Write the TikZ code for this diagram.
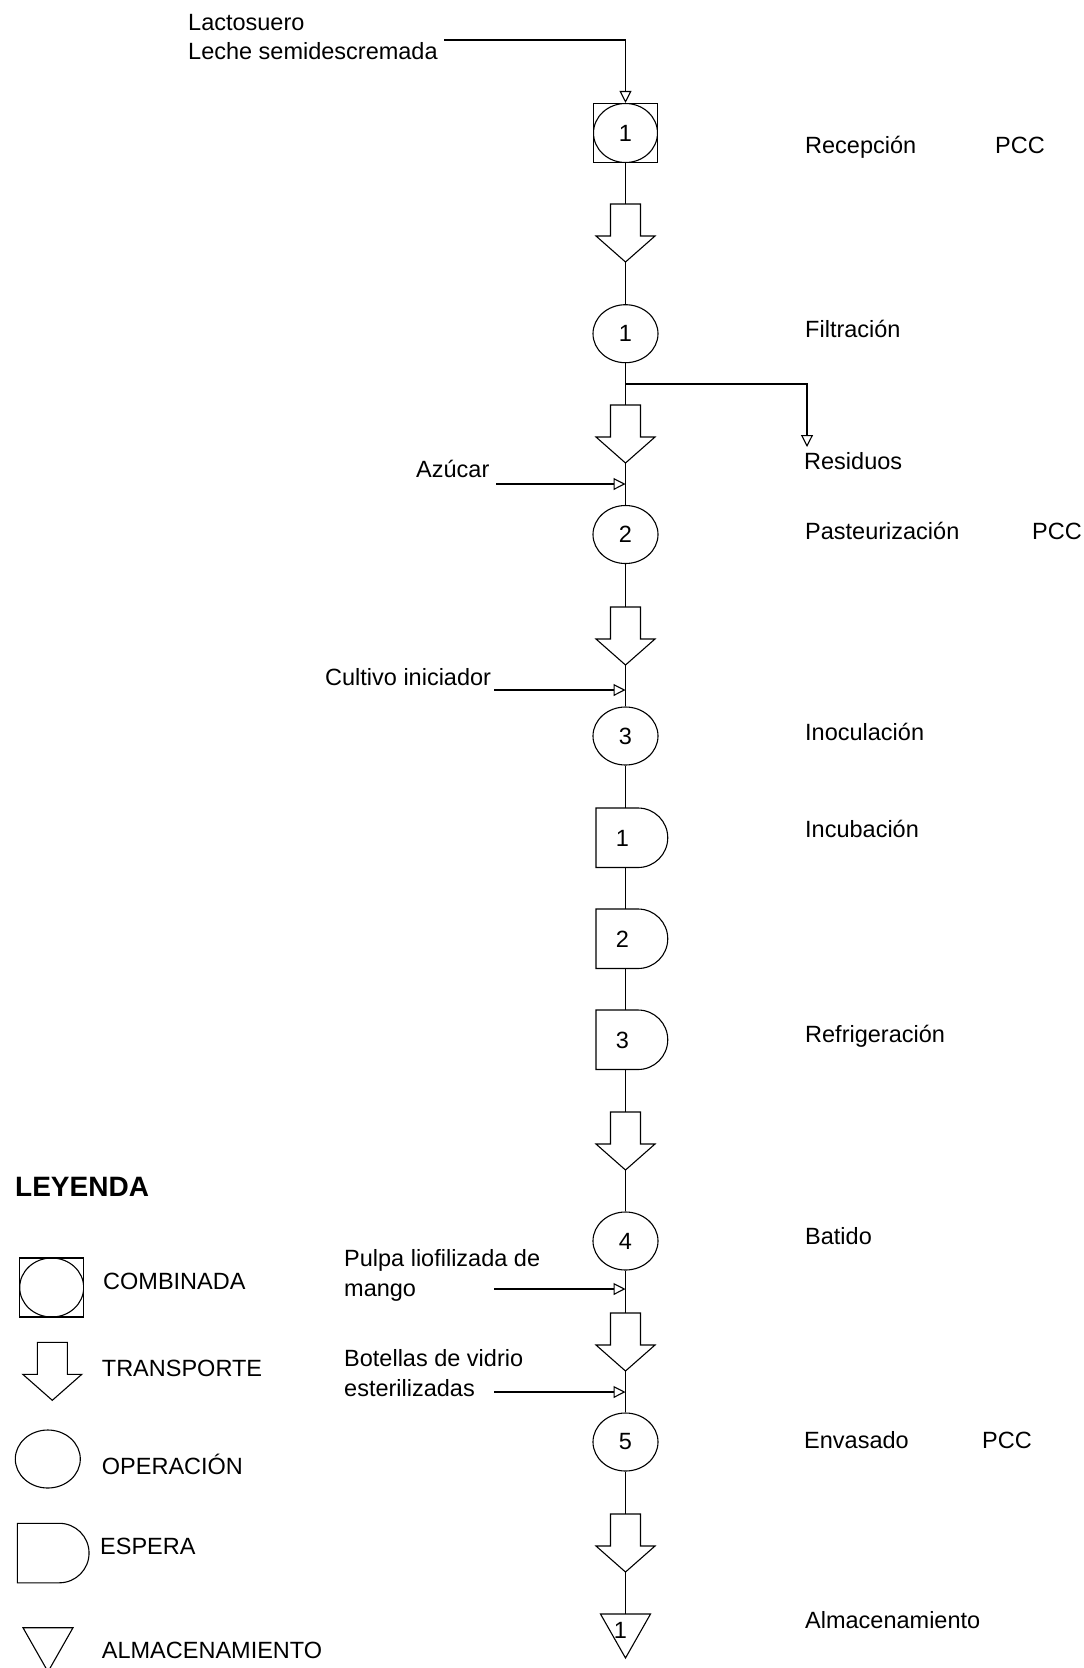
\documentclass[tikz,border=0pt]{standalone}
\usepackage{fontspec}
\setmainfont{Liberation Sans}
\usetikzlibrary{
    arrows.meta,
    shapes.geometric
}
\tikzstyle{forma} = [
    draw,
    line width=1.1pt,
    fill=white
]
\tikzstyle{numero} = [
    inner sep=0pt,
    font=\fontsize{23.5}{28}\selectfont
]
\tikzstyle{operacion} = [
    ellipse,
    draw,
    line width=1.1pt,
    minimum width=65pt,
    minimum height=58pt,
    inner sep=0pt,
    font=\fontsize{23.5}{28}\selectfont
]
\tikzstyle{combinada} = [
    rectangle,
    draw,
    line width=1.1pt,
    minimum width=64pt,
    minimum height=59pt,
    inner sep=0pt,
    font=\fontsize{23.5}{28}\selectfont,
    path picture={\draw[line width=1.1pt] (path picture bounding box.center) ellipse [x radius=32pt, y radius=29.5pt];}
]
\tikzstyle{linea} = [
    line width=1.1pt
]
\tikzstyle{entrada} = [
    line width=1.1pt,
    -{Triangle[open, length=12pt, width=12pt]}
]
\tikzstyle{etiqueta} = [
    anchor=base west,
    inner sep=0pt,
    align=left
]
\tikzset{
    pics/transporte/.style={code={
        \draw[forma] (-15,0) -- (15,0) -- (15,32) -- (29.5,32) -- (0,58) -- (-29.5,32) -- (-15,32) -- cycle;
        \coordinate (-n) at (0,0);
        \coordinate (-s) at (0,58);
    }},
    pics/espera/.style={code={
        \draw[forma] (-29.5,0) -- (12.5,0) arc[start angle=90, end angle=-90, radius=29.75pt] -- (-29.5,59.5) -- cycle;
        \node[numero] at (-3,30) {#1};
        \coordinate (-n) at (0,0);
        \coordinate (-s) at (0,59.5);
    }},
    pics/espera/.default={},
    pics/almacen/.style={code={
        \draw[forma] (-25,0) -- (25,0) -- (0,44) -- cycle;
        \node[numero] at (-5,16) {#1};
        \coordinate (-n) at (0,0);
    }},
    pics/almacen/.default={}
}

\begin{document}
\begin{tikzpicture}[x=1pt, y=-1pt, font=\fontsize{23.5}{29.3}\selectfont]
        \useasboundingbox (0,0) rectangle (1084,1668);

        % Nodes
        \node[combinada] (comb1) at (625.5,133) {1};
        \pic (t1) at (625.5,204) {transporte};
        \node[operacion] (op1) at (625.5,333.7) {1};
        \pic (t2) at (625.5,405) {transporte};
        \node[operacion] (op2) at (625.5,534.5) {2};
        \pic (t3) at (625.5,607) {transporte};
        \node[operacion] (op3) at (625.5,736) {3};
        \pic (e1) at (625.5,808) {espera=1};
        \pic (e2) at (625.5,909) {espera=2};
        \pic (e3) at (625.5,1010) {espera=3};
        \pic (t4) at (625.5,1112) {transporte};
        \node[operacion] (op4) at (625.5,1241) {4};
        \pic (t5) at (625.5,1313) {transporte};
        \node[operacion] (op5) at (625.5,1442) {5};
        \pic (t6) at (625.5,1514) {transporte};
        \pic (a1) at (625.5,1614) {almacen=1};

        % Inputs and outputs
        \node[etiqueta] (lactosuero) at (188,59.3) {Lactosuero\\Leche semidescremada};
        \node[etiqueta] (azucar) at (416,477) {Azúcar};
        \node[etiqueta] (cultivo) at (325,685) {Cultivo iniciador};
        \node[etiqueta] (pulpa) at (344,1296) {Pulpa liofilizada de\\mango};
        \node[etiqueta] (botellas) at (344,1396) {Botellas de vidrio\\esterilizadas};
        \node[etiqueta] (residuos) at (804,469.5) {Residuos};

        % Step labels
        \node[etiqueta] (recepcion) at (805,153) {Recepción};
        \node[etiqueta] (pcc1) at (995,153) {PCC};
        \node[etiqueta] (filtracion) at (805,337) {Filtración};
        \node[etiqueta] (pasteurizacion) at (805,539) {Pasteurización};
        \node[etiqueta] (pcc2) at (1032,539) {PCC};
        \node[etiqueta] (inoculacion) at (805,740) {Inoculación};
        \node[etiqueta] (incubacion) at (805,837) {Incubación};
        \node[etiqueta] (refrigeracion) at (805,1042) {Refrigeración};
        \node[etiqueta] (batido) at (805,1244) {Batido};
        \node[etiqueta] (envasado) at (804,1448) {Envasado};
        \node[etiqueta] (pcc3) at (982,1448) {PCC};
        \node[etiqueta] (almacenamiento) at (805,1628) {Almacenamiento};

        % Joins on the main line
        \coordinate (fork) at (625.5,384);
        \coordinate (residuosin) at (807,447);
        \coordinate (azucarsal) at (496,484);
        \coordinate (azucarin) at (625.5,484);
        \coordinate (cultivosal) at (494,690);
        \coordinate (cultivoin) at (625.5,690);
        \coordinate (pulpasal) at (494,1289);
        \coordinate (pulpain) at (625.5,1289);
        \coordinate (botellassal) at (494,1392);
        \coordinate (botellasin) at (625.5,1392);
        \coordinate (lactosal) at (444,40);

        % Main line
        \draw[entrada] (lactosal) -| (comb1.north);
        \draw[linea] (comb1.south) -- (t1-n);
        \draw[linea] (t1-s) -- (op1.north);
        \draw[linea] (op1.south) -- (t2-n);
        \draw[linea] (t2-s) -- (op2.north);
        \draw[linea] (op2.south) -- (t3-n);
        \draw[linea] (t3-s) -- (op3.north);
        \draw[linea] (op3.south) -- (e1-n);
        \draw[linea] (e1-s) -- (e2-n);
        \draw[linea] (e2-s) -- (e3-n);
        \draw[linea] (e3-s) -- (t4-n);
        \draw[linea] (t4-s) -- (op4.north);
        \draw[linea] (op4.south) -- (t5-n);
        \draw[linea] (t5-s) -- (op5.north);
        \draw[linea] (op5.south) -- (t6-n);
        \draw[linea] (t6-s) -- (a1-n);

        % Side arrows
        \draw[entrada] (fork) -| (residuosin);
        \draw[entrada] (azucarsal) -- (azucarin);
        \draw[entrada] (cultivosal) -- (cultivoin);
        \draw[entrada] (pulpasal) -- (pulpain);
        \draw[entrada] (botellassal) -- (botellasin);

        % Legend
        \node[etiqueta, font=\fontsize{28}{32}\selectfont\bfseries] (leyenda) at (15,1196.7) {LEYENDA};
        \node[combinada] (leycomb) at (51.7,1287.5) {};
        \node[etiqueta] at (103,1289.3) {COMBINADA};
        \pic (leytrans) at (52.3,1342.3) {transporte};
        \node[etiqueta] at (101.7,1376.7) {TRANSPORTE};
        \node[operacion] (leyop) at (47.8,1459) {};
        \node[etiqueta] at (101.7,1474.3) {OPERACIÓN};
        \pic (leyesp) at (46.8,1523.3) {espera};
        \node[etiqueta] at (100,1554.3) {ESPERA};
        \pic (leyalm) at (48,1627.7) {almacen};
        \node[etiqueta] at (101.7,1658.3) {ALMACENAMIENTO};
    \end{tikzpicture}
\end{document}
